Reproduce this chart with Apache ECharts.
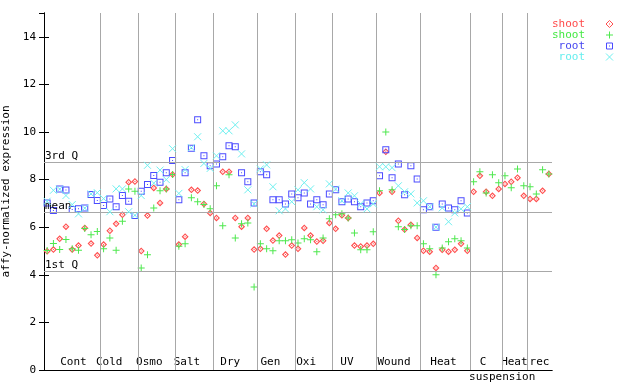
<!DOCTYPE html>
<html><head><meta charset="utf-8">
<script src="https://cdn.jsdelivr.net/npm/echarts@6/dist/echarts.min.js"></script>
<style>html,body{margin:0;padding:0;background:#fff}#c{width:640px;height:384px}</style>
</head><body><div id="c"></div>
<script>
// ---- data ----
const categories = ['Cont','Cold','Osmo','Salt','Dry','Gen','Oxi','UV','Wound','Heat','C','Heat','rec'];
const groupEnds = [9,15,21,27,34,40,46,53,60,68,73,77];      // sample-index boundaries between groups
const labelAt = [4.7,10.4,16.8,22.8,29.7,36.1,41.8,48.3,55.8,63.7,70.0,75.0,79.0];
const subLabel = 'suspension';
const subLabelAt = 73.05;
const nSamples = 81;

const shoot1 = [4.99,5.06,5.51,6.02,5.06,5.23,5.97,5.31,4.82,
  5.27,5.85,6.14,6.52,7.89,7.92,
  5.00,6.49,7.65,7.02,7.61,8.21,
  5.27,5.60,7.57,7.54,6.98,6.60,
  6.39,8.33,8.33,6.39,6.02,6.39,5.06,
  5.09,5.93,5.44,5.65,4.85,5.23,
  5.09,5.97,5.65,5.40,5.43,6.18,
  5.93,6.50,6.39,5.23,5.19,5.23,5.30,
  7.44,9.17,7.49,6.27,5.90,6.10,5.55,
  5.01,4.97,4.29,5.05,4.97,5.05,5.30,5.01,
  7.49,8.16,7.49,7.32,7.61,
  7.82,7.91,8.08,7.32,
  7.19,7.19,7.53,8.24];
const shoot2 = [5.02,5.31,5.06,5.48,5.09,5.03,5.95,5.68,5.82,
  5.09,5.55,5.03,6.25,7.61,7.51,
  4.29,4.84,6.81,7.53,7.61,8.21,
  5.20,5.30,7.24,7.07,6.95,6.77,
  7.74,6.06,8.20,5.55,6.14,6.18,3.49,
  5.30,5.09,5.01,5.43,5.43,5.47,
  5.34,5.51,5.47,4.97,5.55,6.35,
  6.52,6.56,6.39,5.76,5.05,5.05,5.81,
  7.53,10.00,7.57,6.02,5.90,6.06,6.06,
  5.30,5.09,4.00,5.13,5.39,5.51,5.43,5.13,
  7.91,8.33,7.44,8.20,7.87,
  8.16,7.66,8.45,7.74,
  7.70,7.40,8.41,8.24];
const root1 = [7.02,6.70,7.61,7.56,6.74,6.77,6.81,7.37,7.12,
  6.91,7.19,6.86,7.33,7.09,6.49,
  7.51,7.79,8.17,7.89,8.29,8.80,
  7.15,8.29,9.32,10.51,9.00,8.58,
  8.66,8.96,9.42,9.38,8.29,7.91,7.02,
  8.33,8.20,7.15,7.15,6.98,7.40,
  7.24,7.44,6.98,7.15,6.94,7.40,
  7.57,7.07,7.19,7.07,6.86,7.02,7.11,
  8.16,9.25,8.08,8.66,7.36,8.58,8.03,
  6.73,6.86,6.00,6.98,6.81,6.73,7.11,6.60];
const root2 = [7.09,7.55,7.60,7.33,6.95,6.56,6.80,7.40,7.45,
  7.20,6.65,7.61,7.61,6.65,6.50,
  7.33,8.60,7.85,8.40,8.00,9.30,
  7.42,8.42,9.34,9.80,8.68,8.47,
  9.00,10.05,10.05,10.30,9.08,7.57,6.98,
  8.45,8.62,7.70,6.69,6.77,7.07,
  7.57,7.87,7.61,6.86,6.73,7.82,
  7.60,7.11,7.44,7.32,6.98,6.77,6.98,
  8.54,8.54,8.50,7.74,7.49,7.40,7.02,
  7.11,6.86,6.00,6.81,6.23,6.60,6.77,6.86];

const quantNames = ['3rd Q','mean','1st Q'];
const quantValues = [8.71,6.63,4.13];
const legendNames = ['shoot','shoot','root','root'];
const yTickInterval = 2;

// ---- styles ----
const FONT = 'DejaVu Sans Mono';
const colors = ['#ff5050','#4ee84e','#4b4bff','#6ff0f0'];
const textColors = ['#ff4a4a','#44e844','#4646f0','#66eeee'];
const SYM_DIAMOND = 'path://M3.5,0L7,3.5L3.5,7L0,3.5Z M3.5,1.6L1.6,3.5L3.5,5.4L5.4,3.5Z M3,3H4V4H3Z';
const SYM_PLUS = 'path://M3,0H4V3H7V4H4V7H3V4H0V3H3Z';
const SYM_SQUARE = 'path://M0,0H7V7H0Z M1,1V6H6V1Z M3,3H4V4H3Z';
const SYM_X = 'path://M0,0L7,7M7,0L0,7';
const symbols = [SYM_DIAMOND, SYM_PLUS, SYM_SQUARE, SYM_X];

function pts(arr){ const out=[]; arr.forEach((v,i)=>{ if(v!=null) out.push([i+0.5,v]); }); return out; }
const allSeries = [shoot1, shoot2, root1, root2];

const series = [{
  type:'scatter', data:[], z:1, silent:true,
  markLine:{
    silent:true, symbol:'none', animation:false,
    lineStyle:{color:'#a8a8a8', width:1, type:'solid'},
    data: groupEnds.map(v=>({xAxis:v, label:{show:false}}))
      .concat(quantValues.map((v,k)=>({yAxis:v, label:{show:true, formatter:quantNames[k], position:'insideStartTop', distance:[1,1], color:'#000', fontFamily:FONT, fontSize:11}})))
  }
}];
allSeries.forEach((arr,k)=>{
  const isX = k===3;
  series.push({
    type:'scatter', name:legendNames[k], data:pts(arr), z:2+k,
    symbol:symbols[k], symbolSize:7, animation:false,
    itemStyle: isX ? {color:'rgba(0,0,0,0)', borderColor:colors[k], borderWidth:1, opacity:1}
                   : {color:colors[k], opacity:1}
  });
});

// legend drawn as graphic
const legendGraphic = [];
const legY = [24,35,46,57];
const ix = 606;
legendNames.forEach((n,k)=>{
  legendGraphic.push({type:'text', x:585, y:legY[k], style:{text:n, fill:textColors[k], font:'11px '+FONT, align:'right', verticalAlign:'middle'}});
  const cy = legY[k];
  if(k===0){
    legendGraphic.push({type:'polygon', shape:{points:[[ix+3.5,cy-3.5],[ix+7,cy],[ix+3.5,cy+3.5],[ix,cy]]}, style:{fill:null, stroke:colors[0], lineWidth:1}});
    legendGraphic.push({type:'rect', shape:{x:ix+3,y:cy-0.5,width:1,height:1}, style:{fill:colors[0]}});
  } else if(k===1){
    legendGraphic.push({type:'rect', shape:{x:ix+3,y:cy-3.5,width:1,height:7}, style:{fill:colors[1]}});
    legendGraphic.push({type:'rect', shape:{x:ix,y:cy-0.5,width:7,height:1}, style:{fill:colors[1]}});
  } else if(k===2){
    legendGraphic.push({type:'rect', shape:{x:ix+0.5,y:cy-3,width:6,height:6}, style:{fill:null, stroke:colors[2], lineWidth:1}});
    legendGraphic.push({type:'rect', shape:{x:ix+3,y:cy-0.5,width:1,height:1}, style:{fill:colors[2]}});
  } else {
    legendGraphic.push({type:'line', shape:{x1:ix,y1:cy-3.5,x2:ix+7,y2:cy+3.5}, style:{stroke:colors[3], lineWidth:1}});
    legendGraphic.push({type:'line', shape:{x1:ix+7,y1:cy-3.5,x2:ix,y2:cy+3.5}, style:{stroke:colors[3], lineWidth:1}});
  }
});

const chart = echarts.init(document.getElementById('c'), null, {renderer:'canvas'});
chart.setOption({
  animation:false,
  backgroundColor:'#fff',
  grid:{left:44, top:13, width:508, height:357, containLabel:false, outerBoundsMode:'none'},
  xAxis:[
    {type:'value', min:0, max:nSamples, position:'bottom',
     axisLine:{show:true, lineStyle:{color:'#000', width:1}}, axisTick:{show:false}, splitLine:{show:false},
     axisLabel:{show:true, inside:true, margin:2, customValues:labelAt, color:'#000', fontFamily:FONT, fontSize:11,
       formatter:(val)=>{ let b=0; labelAt.forEach((p,i)=>{ if(Math.abs(p-val)<Math.abs(labelAt[b]-val)) b=i; }); return categories[b]; }}},
    {type:'value', min:0, max:nSamples, position:'top',
     axisLine:{show:true, lineStyle:{color:'#000', width:1}}, axisTick:{show:false}, axisLabel:{show:false}, splitLine:{show:false}},
    {type:'value', min:0, max:nSamples, position:'bottom',
     axisLine:{show:false}, axisTick:{show:false}, splitLine:{show:false},
     axisLabel:{show:true, margin:2, customValues:[subLabelAt], color:'#000', fontFamily:FONT, fontSize:11, formatter:()=>subLabel}}
  ],
  yAxis:[
    {type:'value', min:0, max:15, interval:yTickInterval, position:'left',
     name:'affy-normalized expression', nameLocation:'middle', nameGap:26, nameRotate:90,
     nameTextStyle:{color:'#000', fontFamily:FONT, fontSize:11},
     axisLine:{show:true, lineStyle:{color:'#000', width:1}},
     axisTick:{show:true, inside:true, length:5, lineStyle:{color:'#000'}},
     axisLabel:{color:'#000', fontFamily:FONT, fontSize:11, margin:8, showMaxLabel:false},
     splitLine:{show:false}},
    {type:'value', min:0, max:15, interval:yTickInterval, position:'right',
     axisLine:{show:true, lineStyle:{color:'#000', width:1}},
     axisTick:{show:true, inside:true, length:5, lineStyle:{color:'#000'}},
     axisLabel:{show:false}, splitLine:{show:false}}
  ],
  series: series,
  graphic: legendGraphic
});
</script></body></html>
